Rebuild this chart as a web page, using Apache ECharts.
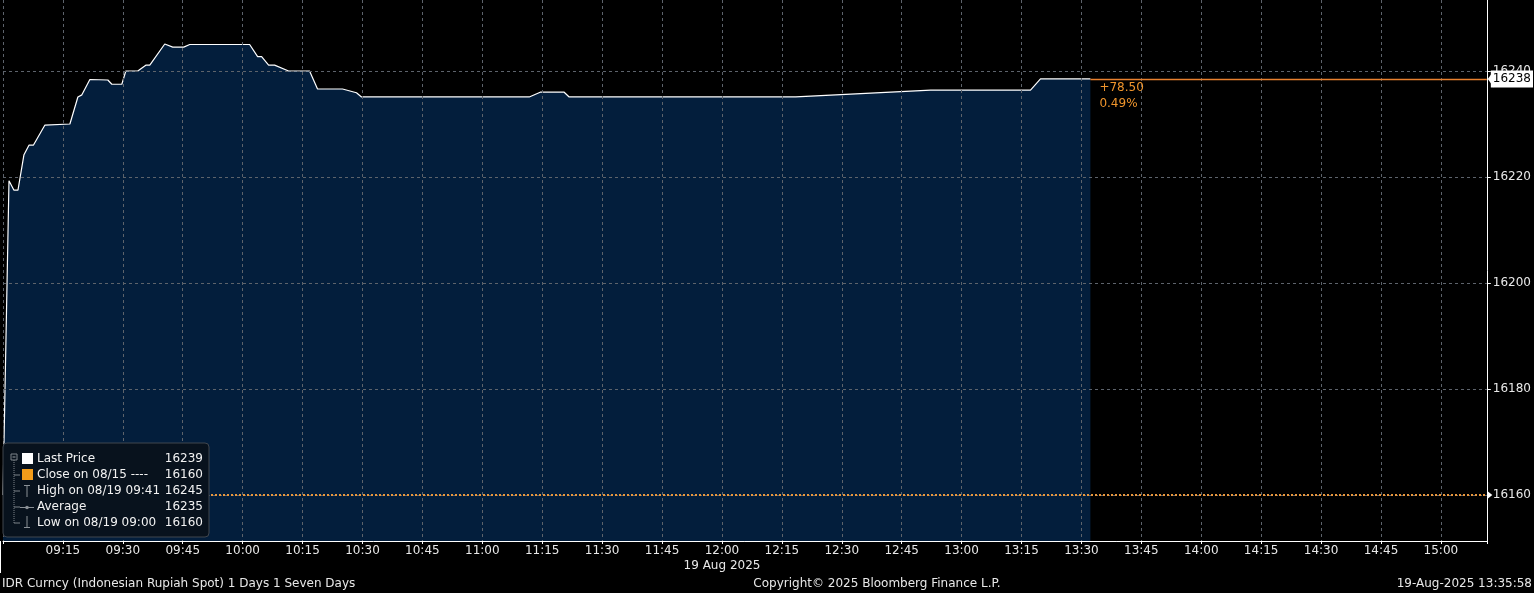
<!DOCTYPE html>
<html>
<head>
<meta charset="utf-8">
<script src="https://cdn.jsdelivr.net/npm/echarts@6/dist/echarts.min.js"></script>
<style>
html,body{margin:0;padding:0;background:#000;}
#chart{width:1534px;height:593px;}
</style>
</head>
<body>
<div id="chart"></div>
<script>
// ---- data ----
const times = ['09:00:00','09:01:30','09:02:45','09:03:45','09:05:15','09:06:30','09:07:36','09:10:30','09:16:45','09:18:45','09:19:45','09:21:45','09:26:15','09:27:15','09:29:45','09:30:45','09:33:45','09:35:45','09:36:45','09:40:30','09:42:30','09:45:15','09:45:45','09:46:45','10:01:45','10:03:45','10:04:45','10:06:30','10:08:00','10:11:30','10:16:45','10:18:45','10:25:00','10:28:30','10:29:45','11:11:45','11:14:30','11:20:30','11:21:45','12:18:30','12:52:15','13:17:15','13:19:45','13:32:15'];
const prices = [16160,16219.3,16217.5,16217.5,16224.2,16226,16226,16229.8,16230,16235.1,16235.5,16238.4,16238.3,16237.5,16237.5,16240,16240,16241.1,16241.1,16245.1,16244.5,16244.5,16244.2,16245,16245,16242.7,16242.7,16241.1,16241.1,16240,16240,16236.6,16236.6,16235.9,16235.1,16235.1,16236,16236,16235.1,16235.1,16236.4,16236.4,16238.5,16238.5];
const yTicks = [16160, 16180, 16200, 16220, 16240];
const lastPrice = 16238.5;
const prevClose = 16160;
const lastLabel = '16238';
const changeText = '+78.50';
const changePct = '0.49%';
const legendRows = [
  ['Last Price', '16239'],
  ['Close on 08/15 ----', '16160'],
  ['High on 08/19 09:41', '16245'],
  ['Average', '16235'],
  ['Low on 08/19 09:00', '16160']
];
const sessionStart = '09:00';
const axisMinutes = [0, 371.5];
const yRange = [16151.3, 16253.4];

function toMin(t){
  const p = t.split(':').map(Number);
  const s = sessionStart.split(':').map(Number);
  return (p[0]*60 + p[1] + (p[2]||0)/60) - (s[0]*60 + s[1]);
}
function fmtMin(v){
  const s = sessionStart.split(':').map(Number);
  const tot = s[0]*60 + s[1] + v;
  const h = Math.floor(tot/60), m = Math.round(tot%60);
  return (h<10?'0':'')+h+':'+(m<10?'0':'')+m;
}
const seriesData = times.map((t,i)=>[toMin(t), prices[i]]);
const lastX = seriesData[seriesData.length-1][0];

const FONT = 'DejaVu Sans';
const gridCol = '#5d636b';
const lastLineStyle = {color:'#e8802f', type:'solid', width:1.3};

const legendGraphics = [];
legendGraphics.push({type:'rect', shape:{x:3,y:443,width:206,height:94,r:4}, style:{fill:'#08121d', stroke:'#40464e', lineWidth:1}, z:100});
const rowY = [459, 475, 491, 507, 523];
legendRows.forEach((r,i)=>{
  legendGraphics.push({type:'text', z:101, style:{text:r[0], x:37, y:rowY[i], fill:'#f2f2f2', font:'12px '+FONT, align:'left', verticalAlign:'middle'}});
  legendGraphics.push({type:'text', z:101, style:{text:r[1], x:203, y:rowY[i], fill:'#f2f2f2', font:'12px '+FONT, align:'right', verticalAlign:'middle'}});
  if (i>0) legendGraphics.push({type:'line', z:101, shape:{x1:14,y1:rowY[i],x2:20,y2:rowY[i]}, style:{stroke:'#7d838a', lineWidth:1}});
});
legendGraphics.push({type:'line', z:101, shape:{x1:14,y1:460,x2:14,y2:523}, style:{stroke:'#7d838a', lineWidth:1, lineDash:[1,1]}});
legendGraphics.push({type:'rect', z:101, shape:{x:11,y:454,width:6,height:6}, style:{fill:'#08121d', stroke:'#7d838a', lineWidth:1}});
legendGraphics.push({type:'line', z:102, shape:{x1:12.5,y1:457,x2:15.5,y2:457}, style:{stroke:'#9aa0a6', lineWidth:1}});
legendGraphics.push({type:'rect', z:101, shape:{x:22,y:453,width:11,height:11}, style:{fill:'#ffffff'}});
legendGraphics.push({type:'rect', z:101, shape:{x:22,y:469,width:11,height:11}, style:{fill:'#f39c1a'}});
// High icon
legendGraphics.push({type:'line', z:101, shape:{x1:24,y1:485.5,x2:30,y2:485.5}, style:{stroke:'#8a9096', lineWidth:1}});
legendGraphics.push({type:'line', z:101, shape:{x1:27,y1:485.5,x2:27,y2:497}, style:{stroke:'#8a9096', lineWidth:1}});
// Average icon
legendGraphics.push({type:'line', z:101, shape:{x1:20,y1:507.5,x2:34,y2:507.5}, style:{stroke:'#8a9096', lineWidth:1}});
legendGraphics.push({type:'circle', z:101, shape:{cx:27,cy:507.5,r:1.8}, style:{fill:'#8a9096'}});
// Low icon
legendGraphics.push({type:'line', z:101, shape:{x1:27,y1:516,x2:27,y2:527.5}, style:{stroke:'#8a9096', lineWidth:1}});
legendGraphics.push({type:'line', z:101, shape:{x1:24,y1:527.5,x2:30,y2:527.5}, style:{stroke:'#8a9096', lineWidth:1}});

const footer = [
  {type:'line', shape:{x1:0.5,y1:541,x2:0.5,y2:573}, style:{stroke:'#ffffff', lineWidth:1}},
  {type:'text', style:{text:'19 Aug 2025', x:722, y:566, fill:'#e8e8e8', font:'12px '+FONT, align:'center', verticalAlign:'middle'}},
  {type:'text', style:{text:'IDR Curncy (Indonesian Rupiah Spot) 1 Days 1 Seven Days', x:2, y:584, fill:'#e8e8e8', font:'12px '+FONT, align:'left', verticalAlign:'middle'}},
  {type:'text', style:{text:'Copyright\u00a9 2025 Bloomberg Finance L.P.', x:877, y:584, fill:'#e8e8e8', font:'12px '+FONT, align:'center', verticalAlign:'middle'}},
  {type:'text', style:{text:'19-Aug-2025 13:35:58', x:1532, y:584, fill:'#e8e8e8', font:'12px '+FONT, align:'right', verticalAlign:'middle'}}
];

const chart = echarts.init(document.getElementById('chart'), null, {renderer:'canvas'});
chart.setOption({
  backgroundColor:'#000000',
  animation:false,
  grid:{left:1, right:47, top:0, bottom:52, containLabel:false},
  xAxis:{
    type:'value', min:axisMinutes[0], max:axisMinutes[1], interval:15, z:3,
    axisLine:{show:true, onZero:false, lineStyle:{color:'#ffffff', width:1}},
    axisTick:{show:true, length:3, lineStyle:{color:'#ffffff'}},
    axisLabel:{color:'#e8e8e8', fontSize:12, fontFamily:FONT, margin:4,
      formatter:(v)=> (v>0 && v%15===0) ? fmtMin(v) : ''},
    splitLine:{show:true, lineStyle:{color:gridCol, type:[3,3], width:1}}
  },
  yAxis:{
    type:'value', position:'right', min:yRange[0], max:yRange[1], z:3,
    axisLine:{show:true, onZero:false, lineStyle:{color:'#ffffff', width:1}},
    axisTick:{show:true, length:4, customValues:yTicks, lineStyle:{color:'#ffffff'}},
    axisLabel:{color:'#e8e8e8', fontSize:12, fontFamily:FONT, margin:6, customValues:yTicks,
      formatter:(v)=> String(Math.round(v))},
    splitLine:{show:false}
  },
  graphic: legendGraphics.concat(footer),
  series:[
    {
      type:'line', data:seriesData, showSymbol:false, symbol:'none',
      lineStyle:{color:'#ffffff', width:1.2},
      areaStyle:{color:'#031e3c', opacity:1},
      z:2,
      markLine:{
        silent:true, symbol:['none','none'], animation:false,
        data:[
          ...yTicks.map(v=>({yAxis:v, lineStyle:{color:gridCol, type:[3,3], width:1}, label:{show:false}})),
          {yAxis:prevClose, lineStyle:{color:'#e8963c', type:[2,2], width:2}, label:{show:false}}
        ]
      },
      markPoint:{
        silent:true, animation:false,
        data:[
          {coord:[lastX, lastPrice], symbolSize:0, label:{show:true, position:[9,1], formatter:changeText+'\n'+changePct, color:'#f0952c', fontSize:12, fontFamily:FONT, lineHeight:16, align:'left'}},
          {coord:[axisMinutes[1], prevClose], symbol:'triangle', symbolSize:[8,5], symbolRotate:-90, symbolOffset:[3,0], itemStyle:{color:'#ffffff'}, label:{show:false}}
        ]
      }
    },
    {
      type:'line', data:[], z:3, silent:true,
      itemStyle:{color:'#e8802f'},
      lineStyle:lastLineStyle,
      markLine:{
        silent:true, symbol:['none','none'], animation:false,
        lineStyle:lastLineStyle,
        label:{show:true, position:'end', distance:4, formatter:lastLabel, color:'#000000', backgroundColor:'#ffffff', padding:[3,2,2,2], fontSize:12, fontFamily:FONT},
        data:[[{coord:[lastX, lastPrice], lineStyle:lastLineStyle},{coord:[axisMinutes[1], lastPrice], lineStyle:lastLineStyle}]]
      },
      markPoint:{
        silent:true, animation:false,
        data:[{coord:[axisMinutes[1], lastPrice], symbol:'triangle', symbolSize:[17,6], symbolRotate:90, symbolOffset:[4,0], itemStyle:{color:'#ffffff'}, label:{show:false}}]
      }
    }
  ]
});
</script>
</body>
</html>
